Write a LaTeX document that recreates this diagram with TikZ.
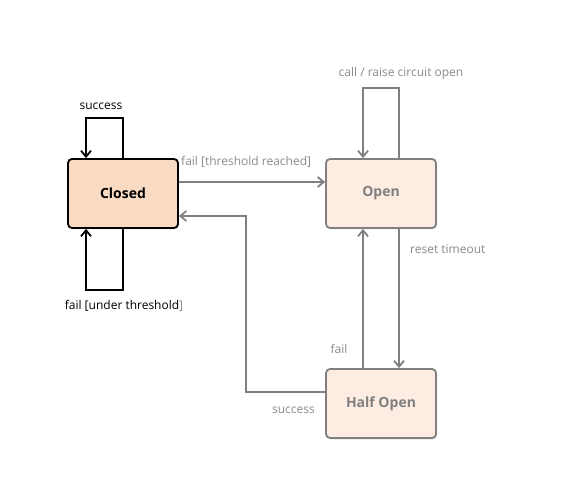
\documentclass[tikz,border=0pt]{standalone}
\usepackage{fontspec}
\setmainfont{Open Sans}
\usetikzlibrary{arrows.meta}
\usetikzlibrary{shadows}
\definecolor{closedfill}{HTML}{F9DBC3}
\definecolor{openfill}{HTML}{FDECE1}
\definecolor{edgegray}{HTML}{808080}
\definecolor{labelgray}{HTML}{8A8A8A}
\tikzset{
  state/.style={rectangle, rounded corners=4pt, minimum width=110pt, minimum height=69pt,
    line width=1.8pt, font=\fontsize{14}{16}\selectfont\bfseries,
    drop shadow={opacity=0.2, shadow xshift=1pt, shadow yshift=-1.5pt}},
  closedstate/.style={state, draw=black, fill=closedfill, text=black},
  openstate/.style={state, draw=edgegray, fill=openfill, text=edgegray},
  trans/.style={line width=1.8pt, draw=edgegray, -{Straight Barb[length=6pt,width=10pt]}},
  blacktrans/.style={trans, draw=black},
  lbl/.style={font=\fontsize{12}{14}\selectfont, text=labelgray, inner sep=0pt}
}
\begin{document}
\begin{tikzpicture}[x=1pt,y=-1pt]
\useasboundingbox (0,0) rectangle (575,502);
% states
\node[closedstate] (closed) at (123,193.5) {Closed};
\node[openstate] (open) at (381,193.5) {Open};
\node[openstate] (half) at (381,403.5) {Half Open};
% closed loops
\draw[blacktrans] (closed.north) -- ++(0,-40) -| ([xshift=-37pt]closed.north);
\draw[blacktrans] (closed.south) -- ++(0,61) -| ([xshift=-37pt]closed.south);
\node[lbl, text=black] (lsucc) at (101,106) {success};
\node[lbl, text=black] (lunder) at (124,306) {fail [under threshold\textcolor{labelgray}{]}};
% closed -> open
\draw[trans] ([yshift=11.5pt]closed.east) -- ([yshift=11.5pt]open.west);
\node[lbl, anchor=west] (lreach) at (181,162) {fail [threshold reached]};
% open loop
\draw[trans] ([xshift=18pt]open.north) -- ++(0,-70) -| ([xshift=-18pt]open.north);
\node[lbl] (lcall) at (401,73) {call / raise circuit open};
% open <-> half open
\draw[trans] ([xshift=18pt]open.south) -- ([xshift=18pt]half.north);
\node[lbl, anchor=west] (lreset) at (410,249) {reset timeout};
\draw[trans] ([xshift=-18pt]half.north) -- ([xshift=-18pt]open.south);
\node[lbl] (lfail) at (339,349) {fail};
% half open -> closed
\coordinate (bend) at (246,216);
\draw[trans] ([yshift=11.5pt]half.west) -| (bend) -- ([yshift=-22.5pt]closed.east);
\node[lbl, anchor=east] (lsuccess) at (315,410) {success};
\end{tikzpicture}
\end{document}
